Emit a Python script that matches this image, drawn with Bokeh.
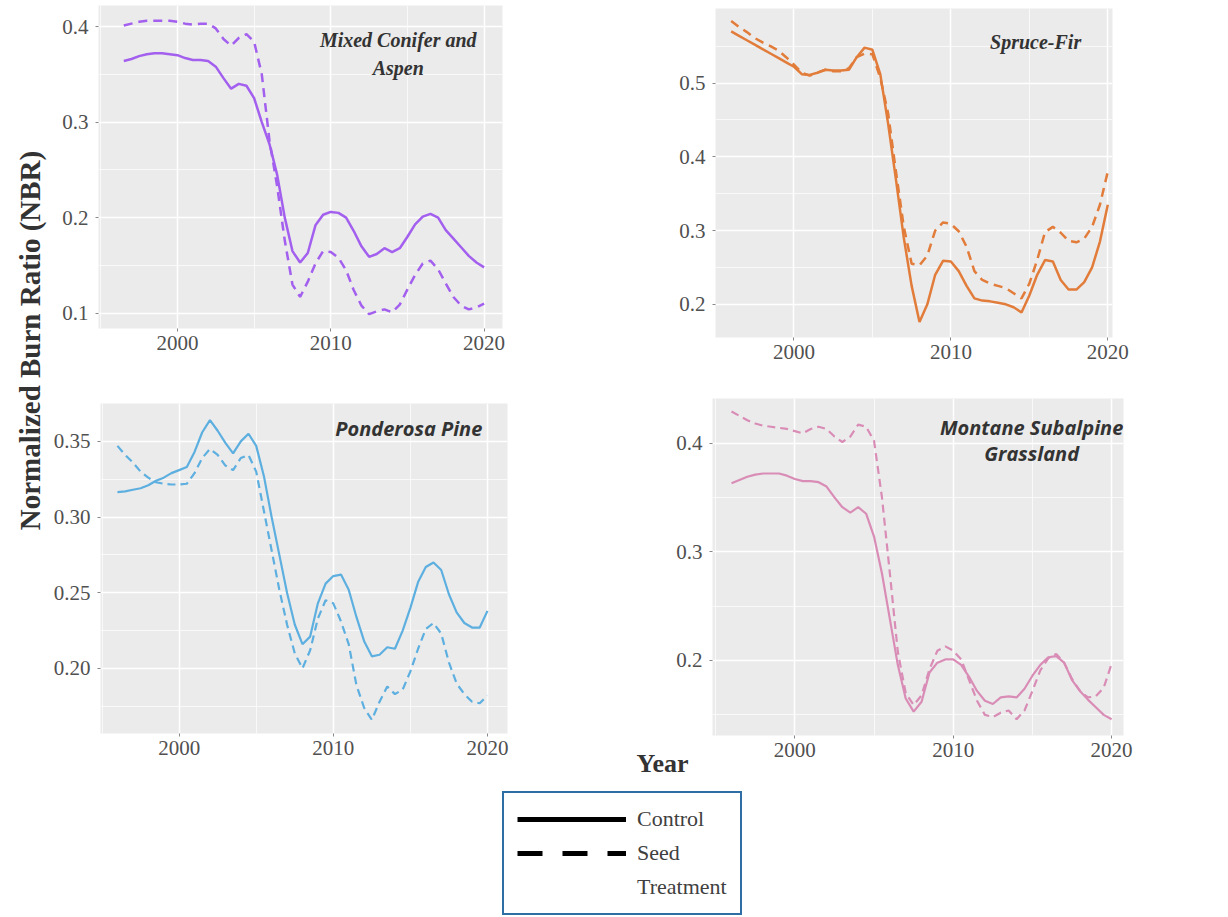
import math
from bokeh.plotting import figure
from bokeh.layouts import row, column
from bokeh.models import (Label, Legend, LegendItem, FixedTicker, Range1d,
                          PrintfTickFormatter, Title)
from bokeh.embed import file_html
from bokeh.resources import INLINE

nan = float("nan")

# ---------------- data ----------------
years = [1996.0, 1996.5, 1997.0, 1997.5, 1998.0, 1998.5, 1999.0, 1999.5, 2000.0, 2000.5,
         2001.0, 2001.5, 2002.0, 2002.5, 2003.0, 2003.5, 2004.0, 2004.5, 2005.0, 2005.5,
         2006.0, 2006.5, 2007.0, 2007.5, 2008.0, 2008.5, 2009.0, 2009.5, 2010.0, 2010.5,
         2011.0, 2011.5, 2012.0, 2012.5, 2013.0, 2013.5, 2014.0, 2014.5, 2015.0, 2015.5,
         2016.0, 2016.5, 2017.0, 2017.5, 2018.0, 2018.5, 2019.0, 2019.5, 2020.0]

mixed_control = [nan, 0.364, 0.366, 0.369, 0.371, 0.372, 0.372, 0.371, 0.370, 0.367,
                 0.365, 0.365, 0.364, 0.358, 0.346, 0.335, 0.340, 0.338, 0.325, 0.300,
                 0.277, 0.245, 0.200, 0.165, 0.153, 0.163, 0.192, 0.203, 0.206, 0.205,
                 0.200, 0.186, 0.170, 0.159, 0.162, 0.168, 0.164, 0.168, 0.180, 0.193,
                 0.201, 0.204, 0.200, 0.187, 0.178, 0.169, 0.160, 0.153, 0.148]
mixed_seed = [nan, 0.401, 0.403, 0.405, 0.406, 0.406, 0.406, 0.406, 0.405, 0.403,
              0.402, 0.403, 0.403, 0.398, 0.387, 0.380, 0.388, 0.392, 0.384, 0.350,
              0.281, 0.233, 0.176, 0.130, 0.117, 0.133, 0.152, 0.165, 0.164, 0.158,
              0.145, 0.124, 0.108, 0.099, 0.102, 0.104, 0.101, 0.109, 0.125, 0.140,
              0.152, 0.155, 0.146, 0.131, 0.117, 0.108, 0.104, 0.106, 0.110]

spruce_control = [0.570, 0.564, 0.558, 0.552, 0.546, 0.540, 0.534, 0.528, 0.522, 0.512,
                  0.511, 0.514, 0.518, 0.517, 0.517, 0.518, 0.535, 0.548, 0.545, 0.512,
                  0.445, 0.369, 0.290, 0.225, 0.176, 0.200, 0.240, 0.259, 0.258, 0.245,
                  0.225, 0.208, 0.205, 0.204, 0.202, 0.200, 0.196, 0.189, 0.212, 0.240,
                  0.260, 0.258, 0.233, 0.220, 0.220, 0.230, 0.250, 0.285, 0.335]
spruce_seed = [0.584, 0.576, 0.569, 0.561, 0.555, 0.550, 0.544, 0.535, 0.525, 0.514,
               0.510, 0.514, 0.518, 0.516, 0.516, 0.520, 0.535, 0.540, 0.539, 0.507,
               0.459, 0.380, 0.305, 0.255, 0.253, 0.266, 0.300, 0.311, 0.309, 0.299,
               0.278, 0.245, 0.233, 0.228, 0.225, 0.222, 0.215, 0.208, 0.228, 0.260,
               0.298, 0.305, 0.297, 0.286, 0.284, 0.289, 0.305, 0.335, 0.380]

pond_control = [0.3165, 0.317, 0.318, 0.319, 0.321, 0.324, 0.326, 0.329, 0.331, 0.333,
                0.343, 0.356, 0.364, 0.357, 0.349, 0.342, 0.350, 0.355, 0.347, 0.327,
                0.300, 0.275, 0.250, 0.229, 0.216, 0.221, 0.243, 0.256, 0.261, 0.262,
                0.252, 0.234, 0.218, 0.208, 0.209, 0.214, 0.213, 0.225, 0.240, 0.257,
                0.267, 0.270, 0.265, 0.249, 0.237, 0.230, 0.227, 0.227, 0.238]
pond_seed = [0.347, 0.341, 0.336, 0.330, 0.326, 0.323, 0.322, 0.3215, 0.3215, 0.322,
             0.329, 0.339, 0.345, 0.341, 0.334, 0.331, 0.339, 0.341, 0.330, 0.304,
             0.278, 0.252, 0.229, 0.210, 0.200, 0.212, 0.233, 0.245, 0.243, 0.231,
             0.216, 0.189, 0.174, 0.166, 0.178, 0.188, 0.183, 0.186, 0.198, 0.213,
             0.226, 0.230, 0.223, 0.204, 0.190, 0.183, 0.178, 0.177, 0.182]

grass_control = [0.363, 0.366, 0.369, 0.371, 0.372, 0.372, 0.372, 0.370, 0.367, 0.365,
                 0.365, 0.364, 0.360, 0.350, 0.341, 0.336, 0.341, 0.335, 0.314, 0.280,
                 0.238, 0.196, 0.165, 0.153, 0.162, 0.189, 0.198, 0.201, 0.201, 0.196,
                 0.185, 0.172, 0.163, 0.160, 0.166, 0.167, 0.166, 0.174, 0.186, 0.196,
                 0.203, 0.204, 0.198, 0.182, 0.172, 0.164, 0.157, 0.150, 0.146]
grass_seed = [0.429, 0.425, 0.421, 0.418, 0.416, 0.415, 0.414, 0.413, 0.411, 0.409,
              0.413, 0.415, 0.413, 0.406, 0.401, 0.406, 0.417, 0.415, 0.402, 0.350,
              0.280, 0.208, 0.170, 0.159, 0.168, 0.192, 0.209, 0.213, 0.209, 0.201,
              0.182, 0.163, 0.150, 0.148, 0.152, 0.154, 0.146, 0.154, 0.172, 0.191,
              0.202, 0.206, 0.198, 0.183, 0.172, 0.166, 0.167, 0.175, 0.197]

x_ticks = [2000, 2010, 2020]
x_minor = [1995, 2005, 2015]

titles = ["Mixed Conifer and\nAspen", "Spruce-Fir", "Ponderosa Pine", "Montane Subalpine\nGrassland"]
y_label = "Normalized Burn Ratio (NBR)"
x_label = "Year"
legend_labels = ["Control", "Seed", "Treatment"]

TICK_FONT = "Liberation Serif"


def panel(width, height, borders, xr, yr, yt, ymin, fmt, color, solid, dashed,
          title, title_xy, title_font, title_size, title_lh, lw=2.5, dash="9 6"):
    l, r, t, b = borders
    p = figure(width=width, height=height, x_range=Range1d(*xr), y_range=Range1d(*yr),
               output_backend="svg", toolbar_location=None,
               min_border_left=l, min_border_right=r, min_border_top=t, min_border_bottom=b)
    p.background_fill_color = "#EBEBEB"
    p.border_fill_color = "white"
    p.outline_line_color = None
    xt = FixedTicker(ticks=x_ticks, minor_ticks=x_minor)
    ytk = FixedTicker(ticks=yt, minor_ticks=ymin)
    p.xaxis.ticker = xt
    p.yaxis.ticker = ytk
    p.xgrid.ticker = xt
    p.ygrid.ticker = ytk
    p.yaxis.formatter = PrintfTickFormatter(format=fmt)
    for ax in (p.xaxis, p.yaxis):
        ax.axis_line_color = None
        ax.major_tick_line_color = "#888888"
        ax.major_tick_out = 3
        ax.major_tick_in = 0
        ax.minor_tick_line_color = None
        ax.major_label_text_font = TICK_FONT
        ax.major_label_text_font_size = "21px"
        ax.major_label_text_color = "#505050"
    p.xaxis.major_label_standoff = 3
    p.yaxis.major_label_standoff = 6
    p.grid.grid_line_color = "white"
    p.grid.grid_line_width = 1.5
    p.grid.minor_grid_line_color = "white"
    p.grid.minor_grid_line_width = 0.7
    p.line(years, solid, line_color=color, line_width=lw)
    p.line(years, dashed, line_color=color, line_width=lw, line_dash=dash)
    p.add_layout(Label(x=title_xy[0], y=title_xy[1], text=title, text_align="center",
                       text_baseline="middle", text_font=title_font,
                       text_font_style="bold italic", text_font_size=title_size,
                       text_color="#333333", text_line_height=title_lh))
    return p


A = panel(560, 369, (48, 108, 5, 41), (1994.85, 2021.2), (0.084, 0.422),
          [0.1, 0.2, 0.3, 0.4], [0.15, 0.25, 0.35], "%.1f", "#A35FEE",
          mixed_control, mixed_seed, titles[0], (2014.4, 0.3715),
          "Liberation Serif", "20px", 1.25)
B = panel(618, 369, (105, 116, 8, 32), (1995.0, 2020.3), (0.155, 0.601),
          [0.2, 0.3, 0.4, 0.5], [0.25, 0.35, 0.45, 0.55], "%.1f", "#E27C3A",
          spruce_control, spruce_seed, titles[1], (2015.4, 0.556),
          "Liberation Serif", "20px", 1.25)
C = panel(560, 413, (47, 103, 34, 49), (1994.9, 2021.3), (0.157, 0.375),
          [0.20, 0.25, 0.30, 0.35], [0.175, 0.225, 0.275, 0.325], "%.2f", "#5DAFE0",
          pond_control, pond_seed, titles[2], (2014.9, 0.3586),
          "Open Sans", "20px", 0.96, lw=2.2, dash="8 5")
D = panel(618, 413, (102, 105, 29, 47), (1994.8, 2020.75), (0.131, 0.441),
          [0.2, 0.3, 0.4], [0.15, 0.25, 0.35], "%.1f", "#D98DB6",
          grass_control, grass_seed, titles[3], (2014.95, 0.4025),
          "Open Sans", "20px", 0.96, lw=2.2, dash="8 5")

# x-axis title "Year" sits in the panel below the Montane plot, shifted left
D.add_layout(Title(text=x_label, align="left", vertical_align="top", offset=-76,
                   standoff=-22, text_font="Liberation Serif", text_font_style="bold",
                   text_font_size="26px", text_color="#333333"), "below")

# y-axis label column
L = figure(width=50, height=782, output_backend="svg", toolbar_location=None,
           x_axis_type=None, y_axis_type=None, min_border=0)
L.outline_line_color = None
L.add_layout(Label(x=29, y=442, x_units="screen", y_units="screen", text=y_label,
                   angle=math.pi / 2, text_align="center", text_baseline="middle",
                   text_font="Liberation Serif", text_font_style="bold",
                   text_font_size="29px", text_color="#333333"))

# bottom strip with the legend (legend renderers are hidden key samples)
E = figure(width=1228, height=135, output_backend="svg", toolbar_location=None,
           x_axis_type=None, y_axis_type=None, min_border=0)
E.outline_line_color = None
r1 = E.line(years, grass_control, line_color="black", line_width=5, visible=False)
r2 = E.line(years, grass_seed, line_color="black", line_width=5, line_dash="25 20",
            visible=False)
r3 = E.line(years, grass_seed, line_color="black", line_alpha=0.0, line_width=5,
            visible=False)
leg = Legend(items=[LegendItem(label=legend_labels[0], renderers=[r1]),
                    LegendItem(label=legend_labels[1], renderers=[r2]),
                    LegendItem(label=legend_labels[2], renderers=[r3])],
             location=(502, 2), orientation="vertical", margin=0, padding=13,
             spacing=8, glyph_width=109, glyph_height=26, label_height=26,
             label_width=90, label_standoff=11, click_policy="none",
             inactive_fill_alpha=0.0,
             label_text_font="Liberation Serif", label_text_font_size="22px",
             label_text_color="#404040", border_line_color="#2F6EA5",
             border_line_alpha=1.0, border_line_width=2,
             background_fill_color="white", background_fill_alpha=1.0)
E.add_layout(leg)

layout = column(row(L, column(row(column(A), column(B)), row(column(C), column(D)))), E)

open("out.html", "w").write(file_html(layout, INLINE))
